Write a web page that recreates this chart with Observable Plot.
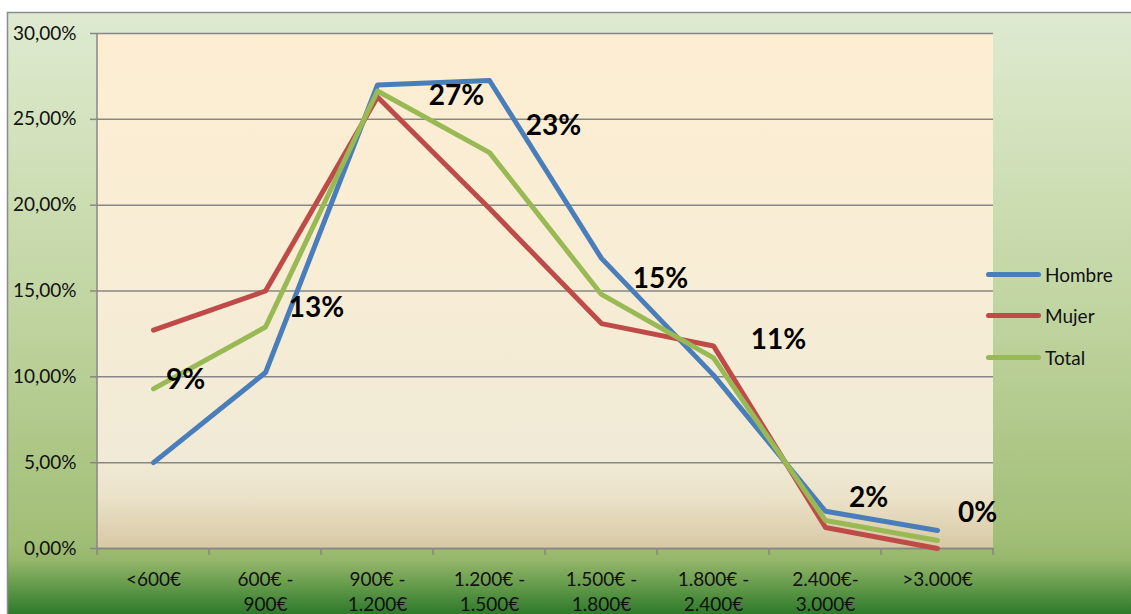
<!DOCTYPE html>
<html>
<head>
<meta charset="utf-8">
<script src="https://cdn.jsdelivr.net/npm/d3@7"></script>
<script src="https://cdn.jsdelivr.net/npm/@observablehq/plot@0.6"></script>
<style>
  html, body { margin: 0; padding: 0; background: #ffffff; }
  #wrap { position: relative; width: 1131px; height: 614px; overflow: hidden; font-family: Lato, "Open Sans", sans-serif; }
  #wrap svg { position: absolute; left: 0; top: 0; }
  .legend { position: absolute; left: 986px; top: 262px; }
  .legend .item { position: absolute; left: 0; height: 24px; white-space: nowrap; display: flex; align-items: center; }
  .legend .swatch { width: 55px; height: 5px; border-radius: 3px; margin-right: 4px; }
  .legend .label { font-size: 19px; color: #111; }
</style>
</head>
<body>
<div id="wrap"></div>
<script>
// ---- data ----
const categories = ["<600€", "600€ - 900€", "900€ - 1.200€", "1.200€ - 1.500€", "1.500€ - 1.800€", "1.800€ - 2.400€", "2.400€- 3.000€", ">3.000€"];
const tickLabels = ["<600€", "600€ -\n900€", "900€ -\n1.200€", "1.200€ -\n1.500€", "1.500€ -\n1.800€", "1.800€ -\n2.400€", "2.400€-\n3.000€", ">3.000€"];
const seriesNames = ["Hombre", "Mujer", "Total"];
const hombre = [0.0500, 0.1025, 0.2700, 0.2726, 0.1690, 0.1010, 0.0217, 0.0105];
const mujer  = [0.1272, 0.1500, 0.2630, 0.1980, 0.1310, 0.1180, 0.0122, 0.0000];
const total  = [0.0930, 0.1290, 0.2665, 0.2306, 0.1480, 0.1110, 0.0163, 0.0047];
const totalLabels = ["9%", "13%", "27%", "23%", "15%", "11%", "2%", "0%"];
const yTicks = [0, 0.05, 0.10, 0.15, 0.20, 0.25, 0.30];

// ---- layout / style (not data) ----
const colors = ["#4a7ebb", "#be4b48", "#98b954"];
const labelOffsets = [[32, -9], [51, -19], [79, 5], [64, -27], [59, -15], [65, -18], [43, -22], [40, -27]];

const rows = [];
[hombre, mujer, total].forEach((vals, s) => {
  vals.forEach((v, i) => rows.push({category: categories[i], series: seriesNames[s], value: v}));
});
const totalRows = total.map((v, i) => ({category: categories[i], value: v, label: totalLabels[i]}));

const W = 1131, H = 614;
const fmtPct = v => (v * 100).toFixed(2).replace(".", ",") + "%";

function svgEl(tag, attrs) {
  const el = document.createElementNS("http://www.w3.org/2000/svg", tag);
  for (const k in attrs) el.setAttribute(k, attrs[k]);
  return el;
}

// background: outer chart area gradient + plot-area gradient
function backgroundMark(index, scales, values, dims) {
  const g = svgEl("g", {});
  const defs = svgEl("defs", {});
  const outer = svgEl("linearGradient", {id: "outerBg", x1: 0, y1: 0, x2: 0, y2: 1});
  [[0, "#dfead1"], [0.2, "#d3e2bd"], [0.5, "#c0d4a0"], [0.88, "#a1be76"], [0.91, "#96b76b"], [0.96, "#5c9646"], [1, "#2e7a2b"]]
    .forEach(([o, c]) => outer.appendChild(svgEl("stop", {offset: o, "stop-color": c})));
  const inner = svgEl("linearGradient", {id: "plotBg", x1: 0, y1: 0, x2: 0, y2: 1});
  [[0, "#fdeed2"], [0.45, "#f8edd5"], [0.83, "#f0ead6"], [0.9, "#ebe2c9"], [1, "#d8c9a5"]]
    .forEach(([o, c]) => inner.appendChild(svgEl("stop", {offset: o, "stop-color": c})));
  defs.appendChild(outer); defs.appendChild(inner);
  g.appendChild(defs);
  g.appendChild(svgEl("rect", {x: 7, y: 12, width: dims.width - 7, height: dims.height - 12, fill: "url(#outerBg)"}));
  g.appendChild(svgEl("path", {d: `M7.5,${dims.height}V12.5H${dims.width}`, fill: "none", stroke: "#8c8c8c", "stroke-width": 1.5}));
  const x0 = dims.marginLeft, y0 = dims.marginTop;
  const w = dims.width - dims.marginLeft - dims.marginRight;
  const h = dims.height - dims.marginTop - dims.marginBottom;
  g.appendChild(svgEl("rect", {x: x0, y: y0, width: w, height: h, fill: "url(#plotBg)"}));
  return g;
}

// y axis line and category-boundary tick marks derived from the scales
function axisLinesMark(index, scales, values, dims) {
  const g = svgEl("g", {stroke: "#878787", "stroke-width": 1.5, fill: "none"});
  const x0 = dims.marginLeft;
  const y0 = dims.marginTop, y1 = dims.height - dims.marginBottom;
  g.appendChild(svgEl("path", {d: `M${x0},${y0}V${y1}`}));
  const xs = categories.map(c => scales.x(c));
  const step = xs[1] - xs[0];
  const bounds = [xs[0] - step / 2, ...xs.map(v => v + step / 2)];
  bounds.forEach(b => g.appendChild(svgEl("path", {d: `M${b},${y1}V${y1 + 7}`})));
  return g;
}

const plot = Plot.plot({
  width: W,
  height: H,
  marginLeft: 97,
  marginRight: 138,
  marginTop: 33,
  marginBottom: 66,
  style: {fontFamily: "Lato, 'Open Sans', sans-serif", background: "transparent", color: "#111"},
  x: {type: "point", domain: categories, padding: 0.5},
  y: {domain: [0, 0.30]},
  color: {domain: seriesNames, range: colors},
  marks: [
    backgroundMark,
    Plot.gridY(yTicks, {stroke: "#878787", strokeOpacity: 1, strokeWidth: 1.5}),
    Plot.ruleY([0], {stroke: "#878787", strokeWidth: 1.5}),
    axisLinesMark,
    Plot.axisY(yTicks, {tickSize: 7, tickPadding: 14, tickFormat: fmtPct, fontSize: 19, stroke: "#878787", strokeWidth: 1.5, fill: "#111", label: null}),
    Plot.axisX({tickSize: 0, tickPadding: 20, fontSize: 19, lineHeight: 1.3, fill: "#111",
      tickFormat: c => tickLabels[categories.indexOf(c)], label: null}),
    Plot.line(rows, {x: "category", y: "value", z: "series", stroke: "series", strokeWidth: 5, strokeLinecap: "round", strokeLinejoin: "round"}),
    ...totalRows.map((r, i) => Plot.text([r], {x: "category", y: "value", text: "label",
      dx: labelOffsets[i][0], dy: labelOffsets[i][1], fontSize: 28, fontWeight: "bold", fill: "#000"}))
  ]
});

const wrap = document.getElementById("wrap");
wrap.appendChild(plot);

const legend = document.createElement("div");
legend.className = "legend";
seriesNames.forEach((name, i) => {
  const item = document.createElement("div");
  item.className = "item";
  item.style.top = (i * 41.5) + "px";
  const sw = document.createElement("div");
  sw.className = "swatch";
  sw.style.background = colors[i];
  const lb = document.createElement("span");
  lb.className = "label";
  lb.textContent = name;
  item.appendChild(sw); item.appendChild(lb);
  legend.appendChild(item);
});
wrap.appendChild(legend);
</script>
</body>
</html>
